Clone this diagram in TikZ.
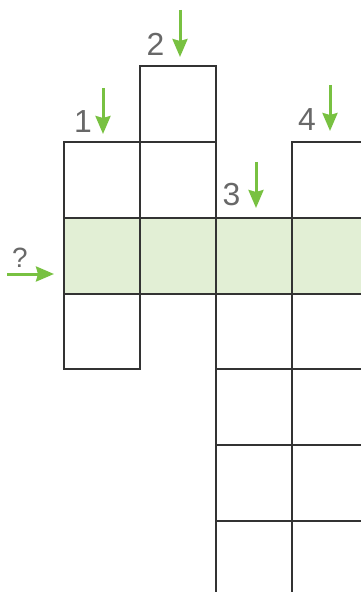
\documentclass[tikz,border=0pt]{standalone}
\usepackage{fontspec}
\usepackage{tikz}
\usetikzlibrary{arrows.meta}
\newfontfamily\cluefont{Liberation Sans}
\definecolor{cluegreen}{HTML}{78C141}
\definecolor{rowgreen}{HTML}{E2EFD5}
\definecolor{cluegray}{HTML}{686868}
\definecolor{gridgray}{HTML}{333333}
\tikzset{
  grid/.style={draw=gridgray, line width=1.2bp},
  cluearrow/.style={draw=cluegreen, line width=3bp,
    -{Stealth[width=15bp,length=18bp,inset=2bp]}},
  cluenum/.style={text=cluegray, inner sep=0pt, anchor=base,
    font=\cluefont\fontsize{32}{36}\selectfont},
}

\begin{document}
\begin{tikzpicture}[x=1bp,y=-1bp]
\useasboundingbox (0,0) rectangle (361,592);
%shaded row
\fill[rowgreen] (64,218) rectangle (361,294);

%grid
%column 1
\draw[grid] (64,142) rectangle (140,369);
\draw[grid] (64,218) -- (140,218);
\draw[grid] (64,294) -- (140,294);
%column 2
\draw[grid] (140,66) rectangle (216,294);
\draw[grid] (140,142) -- (216,142);
\draw[grid] (140,218) -- (216,218);
%column 3
\draw[grid] (216,294) -- (216,592);
\draw[grid] (216,218) -- (292,218);
\draw[grid] (216,294) -- (292,294);
\draw[grid] (216,369) -- (292,369);
\draw[grid] (216,445) -- (292,445);
\draw[grid] (216,521) -- (292,521);
%column 4
\draw[grid] (292,592) -- (292,142) -- (361,142);
\draw[grid] (292,218) -- (361,218);
\draw[grid] (292,294) -- (361,294);
\draw[grid] (292,369) -- (361,369);
\draw[grid] (292,445) -- (361,445);
\draw[grid] (292,521) -- (361,521);

%clue numbers
\node[cluenum] (n1) at (83,133) {1};
\node[cluenum] (n2) at (155.5,56) {2};
\node[cluenum] (n3) at (231.5,205) {3};
\node[cluenum] (n4) at (307,131) {4};
\node[cluenum, font=\cluefont\fontsize{28}{32}\selectfont] (nq) at (20,267) {?};

%clue arrows
\coordinate (a1) at (103,88);
\coordinate (b1) at (103,134);
\coordinate (a2) at (180,10);
\coordinate (b2) at (180,57);
\coordinate (a3) at (256,162);
\coordinate (b3) at (256,208);
\coordinate (a4) at (330,85);
\coordinate (b4) at (330,131);
\coordinate (aq) at (7,274);
\coordinate (bq) at (54,274);
\draw[cluearrow] (a1) -- (b1);
\draw[cluearrow] (a2) -- (b2);
\draw[cluearrow] (a3) -- (b3);
\draw[cluearrow] (a4) -- (b4);
\draw[cluearrow] (aq) -- (bq);
\end{tikzpicture}
\end{document}
